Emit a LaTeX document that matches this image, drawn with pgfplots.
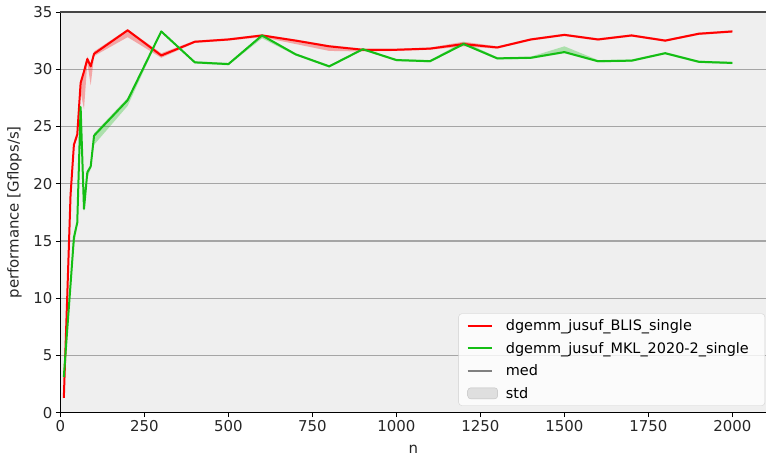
\documentclass[border=0pt]{standalone}
\usepackage{fontspec}
\setmainfont{DejaVu Sans}
\usepackage{pgfplots}
\pgfplotsset{compat=1.18}
\usepgfplotslibrary{fillbetween}
\usepackage{pgfplotstable}

\definecolor{mplred}{RGB}{255,0,0}
\definecolor{mplgreen}{RGB}{20,190,20}
\definecolor{axbg}{RGB}{239,239,239}
\definecolor{gridc}{RGB}{165,165,165}
\definecolor{spine}{RGB}{70,70,70}

\pgfplotstableread{
n med lo hi
10 1.3 1.2 1.5
20 10.0 9.8 10.2
30 19.0 18.8 19.2
40 23.4 23.2 23.6
50 24.3 24.0 24.5
60 28.8 28.0 29.0
70 29.8 26.5 30.0
80 30.9 30.6 31.1
90 30.25 28.6 30.45
100 31.35 31.15 31.55
200 33.4 32.8 33.5
300 31.2 31.0 31.4
400 32.4 32.3 32.5
500 32.6 32.5 32.7
600 32.95 32.8 33.05
700 32.5 32.2 32.6
800 32.0 31.6 32.1
900 31.7 31.55 31.8
1000 31.7 31.6 31.8
1100 31.8 31.7 31.9
1200 32.2 32.0 32.4
1300 31.9 31.8 32.0
1400 32.6 32.5 32.7
1500 33.0 32.9 33.1
1600 32.6 32.5 32.7
1700 32.95 32.85 33.05
1800 32.5 32.4 32.6
1900 33.1 33.0 33.2
2000 33.3 33.2 33.4
}\blis

\pgfplotstableread{
n med lo hi
10 3.1 3.0 3.3
20 7.2 7.0 7.4
30 11.2 11.0 11.4
40 15.3 14.4 15.5
50 16.6 16.4 16.8
60 26.7 26.5 26.9
70 17.8 17.6 18.0
80 21.0 20.5 21.2
90 21.5 21.3 21.7
100 24.2 23.4 24.4
200 27.3 26.8 27.5
300 33.3 33.2 33.4
400 30.6 30.5 30.7
500 30.45 30.35 30.55
600 32.95 32.7 33.05
700 31.3 31.2 31.4
800 30.25 30.15 30.35
900 31.75 31.65 31.85
1000 30.8 30.7 30.9
1100 30.7 30.6 30.8
1200 32.2 32.1 32.4
1300 30.95 30.85 31.05
1400 31.0 30.9 31.1
1500 31.5 31.4 32.0
1600 30.7 30.6 30.8
1700 30.75 30.65 30.85
1800 31.4 31.3 31.5
1900 30.65 30.55 30.75
2000 30.55 30.45 30.65
}\mkl

\begin{document}
\begin{tikzpicture}
\begin{axis}[
  name=ax,
  scale only axis, width=706bp, height=401bp,
  xmin=0, xmax=2100, ymin=0, ymax=35,
  xtick={0,250,...,2000}, ytick={0,5,...,35},
  axis background/.style={fill=axbg},
  axis x line*=bottom, axis y line*=left,
  axis line style={-, black, line width=0.9bp},
  ymajorgrids, grid style={gridc, line width=1.2bp},
  tick align=outside, major tick length=4.5bp,
  tick style={black, line width=0.9bp},
  /pgf/number format/assume math mode=true,
  /pgf/number format/1000 sep={},
  tick label style={font=\fontsize{15}{17}\selectfont, text=black!85},
  label style={font=\fontsize{15}{17}\selectfont, text=black!85},
  xlabel={n}, ylabel={performance [Gflops/s]},
  xlabel style={yshift=-6bp},
  ylabel style={yshift=5bp},
  legend image code/.code={\draw[#1, line width=2bp] (0bp,0bp) -- (24bp,0bp);},
  legend cell align=left,
  legend style={at={(1,0)}, anchor=south east, xshift=-1bp, yshift=7bp,
    fill=white, fill opacity=0.8, text opacity=1, draw opacity=1,
    draw=black!18, rounded corners=3bp, font=\fontsize{14.5}{16}\selectfont,
    row sep=6bp, inner xsep=8bp, inner ysep=4bp,
    nodes={inner xsep=8bp}},
]
\addplot[name path=rhi, draw=none, forget plot] table[x=n,y=hi]{\blis};
\addplot[name path=rlo, draw=none, forget plot] table[x=n,y=lo]{\blis};
\addplot[mplred, fill opacity=0.3, draw=none, forget plot] fill between[of=rhi and rlo];
\addplot[name path=ghi, draw=none, forget plot] table[x=n,y=hi]{\mkl};
\addplot[name path=glo, draw=none, forget plot] table[x=n,y=lo]{\mkl};
\addplot[mplgreen, fill opacity=0.3, draw=none, forget plot] fill between[of=ghi and glo];

\addplot[mplred, line width=2bp, line join=round] table[x=n,y=med]{\blis};
\addlegendentry{dgemm\_jusuf\_BLIS\_single}
\addplot[mplgreen, line width=2bp, line join=round] table[x=n,y=med]{\mkl};
\addlegendentry{dgemm\_jusuf\_MKL\_2020-2\_single}
\addlegendimage{gray}
\addlegendentry{med}
\addlegendimage{legend image code/.code={\fill[black!15, draw=black!25] (0bp,-5.5bp) rectangle (30bp,5.5bp);}}
\addlegendentry{std}
\end{axis}
\draw[spine, line width=1.6bp] (ax.north west) -- (ax.north east);
\pgfresetboundingbox
\path ([xshift=-60.5bp,yshift=-43bp]ax.south west) rectangle ([yshift=12bp]ax.north east);
\end{tikzpicture}
\end{document}
